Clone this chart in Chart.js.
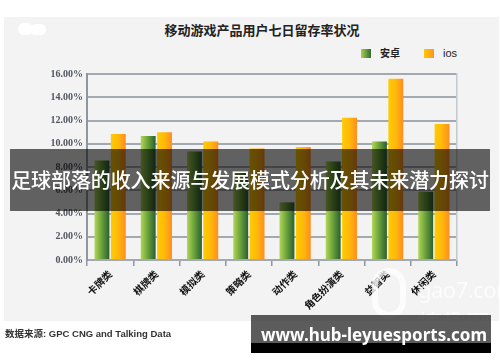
<!DOCTYPE html>
<html><head><meta charset="utf-8">
<script src="https://cdn.jsdelivr.net/npm/chart.js@4/dist/chart.umd.min.js"></script>
<style>
html,body{margin:0;padding:0;background:#fff;width:500px;height:362px;overflow:hidden;position:relative;font-family:"Noto Sans CJK SC","Noto Sans",sans-serif}
#panel{position:absolute;left:4px;top:17px;width:495px;height:304px;background:#f3f3f3}
#blob1{position:absolute;left:18px;top:23px;width:15px;height:12px;border-radius:7px;background:#fff}
#blob2{position:absolute;left:30px;top:24px;width:16px;height:11px;border-radius:6px;background:#fff}
#title{position:absolute;left:142px;top:22px;width:240px;text-align:center;font:bold 13px/16px "Noto Sans CJK SC",sans-serif;color:#222}
.lbox{position:absolute;top:49px;width:10px;height:9px}
.ltxt{position:absolute;top:46px;line-height:14px;color:#222}
#c{position:absolute;left:0;top:0}
#banner{position:absolute;left:10px;top:149px;width:480px;height:62px;background:rgba(0,0,0,0.6);color:#fff;font:500 20px/62px "Noto Sans CJK SC",sans-serif;text-align:center;white-space:nowrap;letter-spacing:-0.1px}
#wm1{position:absolute;left:418px;top:277px;font:22px/24px "Noto Sans",sans-serif;color:rgba(255,255,255,0.7);letter-spacing:-0.5px}
#wm2{position:absolute;left:418px;top:308px;font:24px/28px "Noto Sans CJK SC",sans-serif;color:rgba(255,255,255,0.7)}
#wmg{position:absolute;left:372px;top:268px;width:22px;height:38px;border:6px solid rgba(255,255,255,0.75);border-radius:18px}
#src{position:absolute;left:5px;top:328px;font:bold 9.5px/12px "Liberation Sans","Noto Sans CJK SC",sans-serif;color:#333;white-space:nowrap}
#site{position:absolute;left:251px;top:315px;width:240px;height:38px;background:rgba(0,0,0,0.64)}
#siteb{position:absolute;left:251px;top:343px;width:240px;height:10px;background:#000}
#sitet{position:absolute;left:261px;top:323px;font:bold 17px/24px "Noto Sans","Open Sans",sans-serif;color:#fff;white-space:nowrap}
</style></head>
<body>
<div id="panel"></div>
<div id="blob1"></div><div id="blob2"></div>
<div id="title">移动游戏产品用户七日留存率状况</div>
<div class="lbox" style="left:361px;background:linear-gradient(90deg,#a9d04c,#2f6a33)"></div>
<div class="ltxt" style="left:380px;font-size:10px;font-weight:bold">安卓</div>
<div class="lbox" style="left:424px;background:linear-gradient(90deg,#ffc900,#ff9322)"></div>
<div class="ltxt" style="left:443px;font:11px/14px 'Liberation Sans',sans-serif">ios</div>
<canvas id="c" width="500" height="362"></canvas>
<div id="wmg"></div>
<div id="wm1">gao7.com</div>
<div id="wm2">搞趣网</div>
<div id="banner">足球部落的收入来源与发展模式分析及其未来潜力探讨</div>
<div id="src">数据来源: GPC CNG and Talking Data</div>
<div id="site"></div><div id="siteb"></div>
<div id="sitet">www.hub-leyuesports.com</div>
<script>
const categories = ['卡牌类','棋牌类','模拟类','策略类','动作类','角色扮演类','益智类','休闲类'];
const androidValues = [8.56, 10.66, 9.33, 7.54, 4.96, 8.47, 10.2, 5.87];
const iosValues = [10.84, 11.0, 10.19, 9.6, 9.72, 12.24, 15.6, 11.7];
const seriesNames = ['安卓', 'ios'];

const greenStops = [[0,'#b2d656'],[0.45,'#6ea53c'],[1,'#2b5f31']];
const orangeStops = [[0,'#ffcc00'],[0.5,'#ffb80c'],[1,'#ff8d20']];

const gradientBars = {
  id: 'gradientBars',
  beforeDatasetsDraw(chart) {
    const ctx = chart.ctx;
    chart.data.datasets.forEach((ds, i) => {
      const meta = chart.getDatasetMeta(i);
      const stops = i === 0 ? greenStops : orangeStops;
      meta.data.forEach(el => {
        const g = ctx.createLinearGradient(el.x - el.width / 2, 0, el.x + el.width / 2, 0);
        stops.forEach(([o, c]) => g.addColorStop(o, c));
        const opts = Object.assign({}, el.options);
        opts.backgroundColor = g;
        el.options = opts;
      });
    });
  }
};

new Chart(document.getElementById('c'), {
  type: 'bar',
  data: {
    labels: categories,
    datasets: [
      { label: seriesNames[0], data: androidValues, backgroundColor: () => '#6ea53c', borderWidth: 0 },
      { label: seriesNames[1], data: iosValues, backgroundColor: () => '#ffb80c', borderWidth: 0 }
    ]
  },
  options: {
    responsive: false,
    animation: false,
    categoryPercentage: 0.707,
    barPercentage: 0.91,
    layout: { padding: { top: 74, right: 43, left: 0, bottom: 0 } },
    plugins: { legend: { display: false }, title: { display: false }, tooltip: { enabled: false } },
    scales: {
      x: {
        grid: { display: true, drawOnChartArea: false, drawTicks: true, tickLength: 6, color: '#8f969e', lineWidth: 1.5, offset: true },
        border: { display: true, color: '#a3a9b0', width: 2 },
        ticks: { maxRotation: 45, minRotation: 45, autoSkip: false, padding: 2, color: '#111',
                 font: { family: '"Noto Sans CJK SC"', size: 10, weight: 'bold' } },
        afterFit(s) { s.height = 102; }
      },
      y: {
        min: 0, max: 16,
        ticks: { stepSize: 2, padding: 4, color: '#50555e',
                 font: { family: '"Liberation Sans Narrow"', size: 10, weight: 'bold' },
                 callback: v => v.toFixed(2) + '%' },
        grid: { color: '#a3a9b0', lineWidth: 2, drawTicks: false },
        border: { display: true, color: '#8f969e', width: 2 },
        afterFit(s) { s.width = 87; }
      },
      y2: {
        type: 'linear', position: 'right', min: 0, max: 16,
        ticks: { display: false },
        grid: { display: false, drawTicks: false },
        border: { display: true, color: '#c3c8cd', width: 1.5 },
        afterFit(s) { s.width = 0; }
      }
    }
  },
  plugins: [gradientBars]
});
</script>
</body></html>
